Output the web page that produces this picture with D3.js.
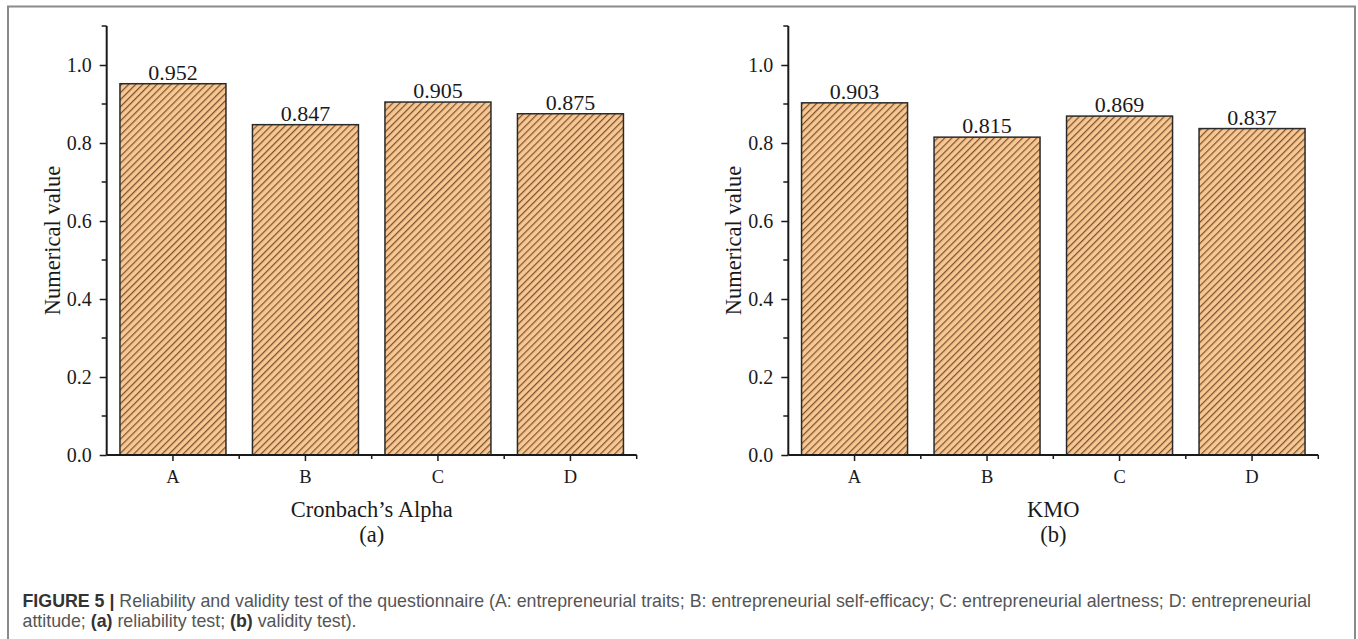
<!DOCTYPE html>
<html><head><meta charset="utf-8">
<script src="https://cdn.jsdelivr.net/npm/d3@7"></script>
<style>
body{margin:0;background:#fff;}
svg{display:block;}
</style></head>
<body>
<svg id="c" width="1358" height="639"></svg>
<script>
const categories = ["A","B","C","D"];
const alphaValues = [0.952, 0.847, 0.905, 0.875];
const kmoValues = [0.903, 0.815, 0.869, 0.837];
const yTicks = [0.0, 0.2, 0.4, 0.6, 0.8, 1.0];
const panelTitles = ["Cronbach\u2019s Alpha", "KMO"];
const panelLabels = ["(a)", "(b)"];

const svg = d3.select("#c");
const serif = "'Liberation Serif', 'Times New Roman', serif";

// frame
svg.append("path").attr("d","M8,639 V6.5 H1355 V639").attr("fill","none").attr("stroke","#8a8a8a").attr("stroke-width",2);

const defs = svg.append("defs");
const pat = defs.append("pattern").attr("id","hatch").attr("patternUnits","userSpaceOnUse")
  .attr("width",5).attr("height",5).attr("patternTransform","rotate(45)");
pat.append("rect").attr("width",5).attr("height",5).attr("fill","#F9C792");
pat.append("line").attr("x1",0.6).attr("y1",0).attr("x2",0.6).attr("y2",5).attr("stroke","#7a5533").attr("stroke-width",1.3);

function panel(x0, values, title, label){
  const x1 = x0 + 530;
  const x = d3.scaleBand().domain(categories).range([x0, x1]).paddingInner(0.2).paddingOuter(0.1);
  const y = d3.scaleLinear().domain([0, 1.1]).range([455, 26]);
  const g = svg.append("g");

  g.selectAll("rect.bar").data(values).join("rect").attr("class","bar")
    .attr("x",(d,i)=>x(categories[i])).attr("width",x.bandwidth())
    .attr("y",d=>y(d)).attr("height",d=>y(0)-y(d))
    .attr("fill","url(#hatch)").attr("stroke","#2a2a2a").attr("stroke-width",1.5);

  g.selectAll("text.val").data(values).join("text").attr("class","val")
    .attr("x",(d,i)=>x(categories[i])+x.bandwidth()/2).attr("y",d=>y(d)-4)
    .attr("text-anchor","middle").attr("font-family",serif).attr("font-size",22).attr("fill","#1a1a1a")
    .text(d=>d.toFixed(3));

  // y axis
  const ya = g.append("g").attr("transform",`translate(${x0},0)`)
    .call(d3.axisLeft(y).tickValues(yTicks).tickFormat(d3.format(".1f")).tickSize(7).tickPadding(8));
  ya.select(".domain").attr("d",`M0,${y(1.1)}V${y(0)}`);
  ya.selectAll("text").attr("font-family",serif).attr("font-size",20).attr("fill","#1a1a1a");
  const minorY = d3.range(1, 12, 2).map(k=>k/10);
  g.selectAll("line.my").data(minorY).join("line").attr("class","my")
    .attr("x1",x0-5).attr("x2",x0).attr("y1",d=>y(d)).attr("y2",d=>y(d)).attr("stroke","#1a1a1a").attr("stroke-width",1.5);

  // x axis
  const xa = g.append("g").attr("transform",`translate(0,${y(0)})`)
    .call(d3.axisBottom(x).tickSize(6).tickPadding(9));
  xa.select(".domain").attr("d",`M${x0},0H${x1}`);
  xa.selectAll("text").attr("font-family",serif).attr("font-size",18.5).attr("fill","#1a1a1a");
  const step = x.step();
  const minorX = categories.map((c,i)=>x(c)+x.bandwidth()/2+step/2);
  g.selectAll("line.mx").data(minorX).join("line").attr("class","mx")
    .attr("x1",d=>d).attr("x2",d=>d).attr("y1",y(0)).attr("y2",y(0)+4).attr("stroke","#1a1a1a").attr("stroke-width",1.5);

  [ya, xa].forEach(a=>{
    a.select(".domain").attr("stroke","#1a1a1a").attr("stroke-width",2);
    a.selectAll(".tick line").attr("stroke","#1a1a1a").attr("stroke-width",1.5);
  });

  g.append("text").attr("transform",`translate(${x0-55},${(y(0)+y(1.1))/2 + 0}) rotate(-90)`)
    .attr("text-anchor","middle").attr("dy","0.35em").attr("font-family",serif).attr("font-size",22.5).attr("fill","#1a1a1a")
    .text("Numerical value");
  g.append("text").attr("x",(x0+x1)/2).attr("y",517).attr("text-anchor","middle")
    .attr("font-family",serif).attr("font-size",22.5).attr("fill","#1a1a1a").text(title);
  g.append("text").attr("x",(x0+x1)/2).attr("y",542).attr("text-anchor","middle")
    .attr("font-family",serif).attr("font-size",22.5).attr("fill","#1a1a1a").text(label);
}

panel(106.7, alphaValues, panelTitles[0], panelLabels[0]);
panel(788.3, kmoValues, panelTitles[1], panelLabels[1]);

// caption
const sans = "'Liberation Sans', Arial, Helvetica, sans-serif";
const cap = svg.append("g").attr("font-family",sans).attr("font-size",17.8).attr("fill","#555");
const t1 = cap.append("text").attr("x",22.5).attr("y",607);
t1.append("tspan").attr("font-weight","bold").attr("fill","#333").text("FIGURE 5 | ");
t1.append("tspan").text("Reliability and validity test of the questionnaire (A: entrepreneurial traits; B: entrepreneurial self-efficacy; C: entrepreneurial alertness; D: entrepreneurial");
const t2 = cap.append("text").attr("x",22.5).attr("y",627);
t2.append("tspan").text("attitude; ");
t2.append("tspan").attr("font-weight","bold").attr("fill","#333").text("(a)");
t2.append("tspan").text(" reliability test; ");
t2.append("tspan").attr("font-weight","bold").attr("fill","#333").text("(b)");
t2.append("tspan").text(" validity test).");
</script>
</body></html>
